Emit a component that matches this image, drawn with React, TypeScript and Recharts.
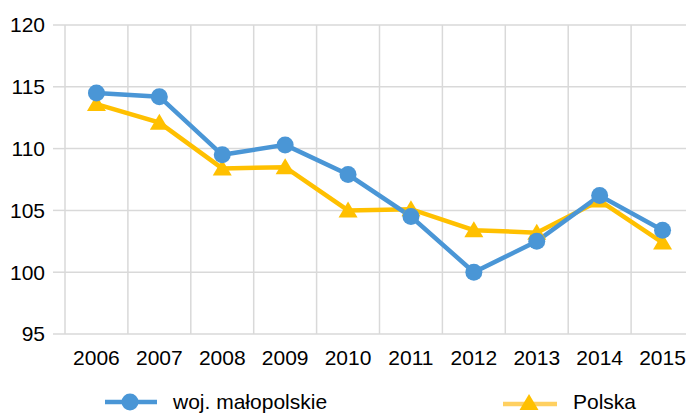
import React from 'react';
import { LineChart, Line, XAxis, YAxis, CartesianGrid, Legend } from 'recharts';

const years = ['2006', '2007', '2008', '2009', '2010', '2011', '2012', '2013', '2014', '2015'];
const malopolskie = [114.5, 114.2, 109.5, 110.3, 107.9, 104.5, 100.0, 102.5, 106.2, 103.4];
const polska = [113.6, 112.1, 108.4, 108.5, 105.0, 105.1, 103.4, 103.2, 105.8, 102.4];
const yTicks = [95, 100, 105, 110, 115, 120];

const BLUE = '#4A96D6';
const YELLOW = '#FFC000';
const GRID = '#D9D9D9';
const FONT = 'Liberation Sans, Arial, sans-serif';

// pos = category index centre, used by the boundary axis (grid + tick marks)
const data = years.map((year, i) => ({
  year,
  pos: i + 0.5,
  malopolskie: malopolskie[i],
  polska: polska[i],
}));

const boundaryTicks = years.map((_, i) => i).concat(years.length);

const Triangle = (props: any) => {
  const { cx, cy, fill } = props;
  if (cx == null || cy == null) return null;
  return <path d={`M${cx},${cy - 9} L${cx + 9.5},${cy + 7} L${cx - 9.5},${cy + 7} Z`} fill={fill} />;
};

const LegendContent = () => (
  <div style={{ position: 'relative', height: 28, fontFamily: FONT, fontSize: 21, color: '#000' }}>
    <div style={{ position: 'absolute', left: 105, top: 0, display: 'flex', alignItems: 'center', height: 28 }}>
      <svg width={52} height={22}>
        <line x1={0} y1={11} x2={52} y2={11} stroke={BLUE} strokeWidth={4.5} strokeLinecap="round" />
        <circle cx={25} cy={11} r={8.5} fill={BLUE} />
      </svg>
      <span style={{ marginLeft: 16 }}>woj. małopolskie</span>
    </div>
    <div style={{ position: 'absolute', left: 503, top: 0, display: 'flex', alignItems: 'center', height: 28 }}>
      <svg width={54} height={22}>
        <line x1={0} y1={13} x2={54} y2={13} stroke="#FFD060" strokeWidth={4.5} strokeLinecap="round" />
        <path d="M26,3 L35.5,19 L16.5,19 Z" fill={YELLOW} />
      </svg>
      <span style={{ marginLeft: 16 }}>Polska</span>
    </div>
  </div>
);

export default function App() {
  return (
    <div style={{ position: 'absolute', left: 0, top: 0, width: 686, height: 416, overflow: 'hidden', background: '#fff' }}>
      <LineChart width={694} height={416} data={data} margin={{ top: 25, right: 0, bottom: 0, left: 0 }}>
        <CartesianGrid stroke={GRID} strokeWidth={1.5} xAxisId="grid" />
        <XAxis
          xAxisId="grid"
          dataKey="pos"
          type="number"
          domain={[0, years.length]}
          ticks={boundaryTicks}
          tickFormatter={() => ''}
          tickSize={11}
          tickLine={{ stroke: GRID, strokeWidth: 1.5 }}
          axisLine={false}
          height={0}
        />
        <XAxis
          xAxisId="cat"
          dataKey="year"
          scale="band"
          tickLine={false}
          axisLine={false}
          tickSize={0}
          tickMargin={16}
          height={54}
          interval={0}
          tick={{ fill: '#000', fontSize: 21, fontFamily: FONT }}
        />
        <YAxis
          domain={[95, 120]}
          ticks={yTicks}
          width={65}
          axisLine={false}
          tickSize={12}
          tickMargin={8}
          tickLine={{ stroke: GRID, strokeWidth: 1.5 }}
          tick={{ fill: '#000', fontSize: 21, fontFamily: FONT }}
        />
        <Legend verticalAlign="bottom" wrapperStyle={{ height: 28 }} content={<LegendContent />} />
        <Line
          xAxisId="cat"
          dataKey="polska"
          stroke={YELLOW}
          strokeWidth={4.5}
          dot={<Triangle fill={YELLOW} />}
          isAnimationActive={false}
        />
        <Line
          xAxisId="cat"
          dataKey="malopolskie"
          stroke={BLUE}
          strokeWidth={4.5}
          dot={{ r: 8.5, fill: BLUE, stroke: BLUE, strokeWidth: 0 }}
          isAnimationActive={false}
        />
      </LineChart>
    </div>
  );
}
